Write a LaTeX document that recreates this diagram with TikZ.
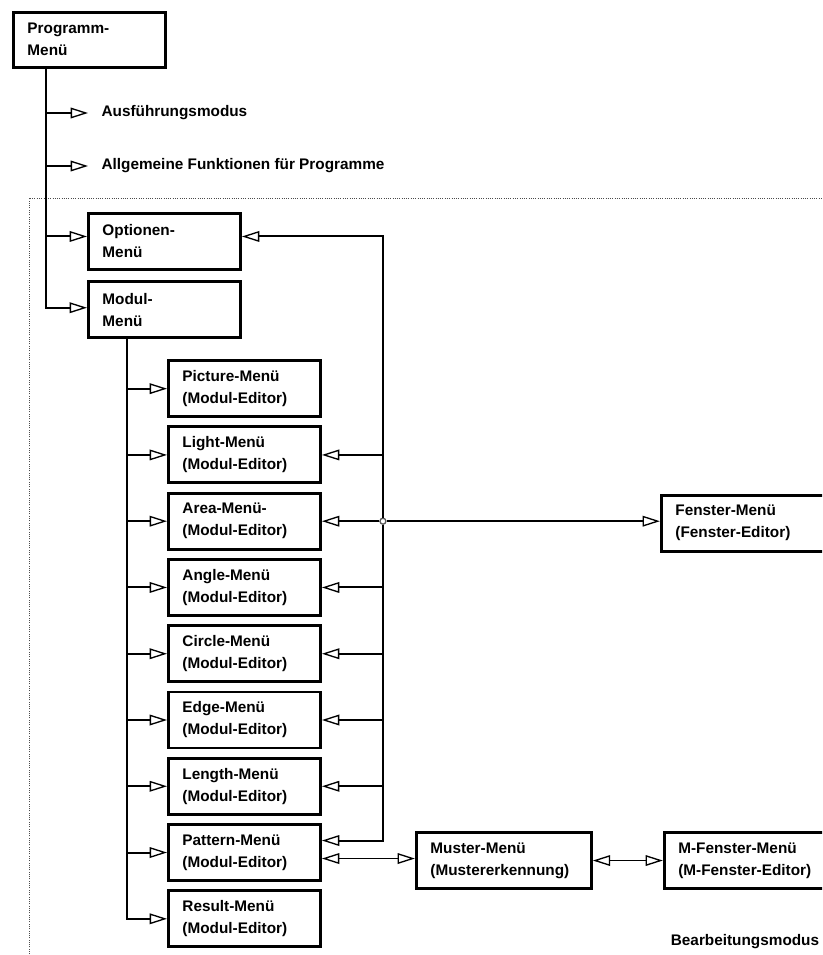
\documentclass[tikz,border=0pt]{standalone}
\usepackage{fontspec}
\setsansfont{Liberation Sans}
\usetikzlibrary{
  calc,
  arrows.meta,
  positioning}

\newcommand{\menufont}{\sffamily\bfseries\fontsize{11.5}{16.5}\selectfont}

\begin{document}
\begin{tikzpicture}[x=0.75pt,y=-0.75pt]
  \tikzset{menubox/.style={draw,rectangle,line width=2.2pt,text width=93pt,
                           inner xsep=10.5pt,inner ysep=1pt,minimum height=42pt,
                           align=left,anchor=north west,font=\menufont},
           widebox/.style={menubox,text width=110.25pt},
           menutext/.style={inner xsep=10pt,anchor=west,font=\menufont},
           conn/.style={line width=1.5pt},
           thinconn/.style={line width=0.8pt},
           opentip/.style={-{Triangle[open,length=13pt,width=8pt,line width=1pt]}},
           bothtips/.style={{Triangle[open,length=13pt,width=8pt,line width=1pt]}-{Triangle[open,length=13pt,width=8pt,line width=1pt]}},
           junction/.style={circle,draw=gray!70!black,fill=white,line width=1pt,
                            inner sep=0pt,minimum size=4.5pt}
           }

\clip (0,0) rectangle (822,955);

%%%%%%%%%%%%%%%%%%%%%%%%%%%%%%%%%%%%%%%%%%%%%%%%%%%%%%%%%%%%%%%%%%%%%%%%%%%%%%

%% Bearbeitungsmodus frame
\draw[gray!60!black,densely dotted,line width=0.7pt] (29,970) |- (840,198);

%%%%%%%%%%%%%%%%%%%%%%%%%%%%%%%%%%%%%%%%%%%%%%%%%%%%%%%%%%%%%%%%%%%%%%%%%%%%%%

\node[menubox,minimum height=41pt] (prog) at (12,11) {Programm-\\Menü};

\node[menutext] (ausf) at (88,113) {Ausführungsmodus};

\node[menutext] (allg) at (88,166) {Allgemeine Funktionen für Programme};

\node[menubox] (opt) at (87,212) {Optionen-\\Menü};

\node[menubox,below=7pt of opt] (modul) {Modul-\\Menü};

\node[menubox] (picm) at ($(modul.south west)+(80,20)$) {Picture-Menü\\(Modul-Editor)};

\node[menubox,below=5.5pt of picm] (lightm) {Light-Menü\\(Modul-Editor)};

\node[menubox,below=5.5pt of lightm] (aream) {Area-Menü-\\(Modul-Editor)};

\node[menubox,below=5.5pt of aream] (anglem) {Angle-Menü\\(Modul-Editor)};

\node[menubox,below=5.5pt of anglem] (circlem) {Circle-Menü\\(Modul-Editor)};

\node[menubox,below=5.5pt of circlem] (edgem) {Edge-Menü\\(Modul-Editor)};

\node[menubox,below=5.5pt of edgem] (lengthm) {Length-Menü\\(Modul-Editor)};

\node[menubox,below=5.5pt of lengthm] (patternm) {Pattern-Menü\\(Modul-Editor)};

\node[menubox,below=5.5pt of patternm] (resultm) {Result-Menü\\(Modul-Editor)};

\coordinate (pbus) at ($(prog.south west)+(34,0)$);
\coordinate (mbus) at ($(modul.south west)+(40,0)$);
\coordinate (rbus) at ($(aream.east)+(61,0)$);

\node[junction] (jn) at (rbus) {};

\node[widebox,anchor=west] (fenster) at ($(rbus)+(277,2)$) {Fenster-Menü\\(Fenster-Editor)};

\node[widebox,anchor=west] (muster) at ($(patternm.east)+(93,8)$) {Muster-Menü\\(Mustererkennung)};

\node[widebox,right=52.5pt of muster] (mfenster) {M-Fenster-Menü\\(M-Fenster-Editor)};

\node[font=\menufont] (bearb) at (745,942) {Bearbeitungsmodus};

%%%%%%%%%%%%%%%%%%%%%%%%%%%%%%%%%%%%%%%%%%%%%%%%%%%%%%%%%%%%%%%%%%%%%%%%%%%%%%
\draw[conn,opentip]  (pbus) |- (ausf.west);
\draw[conn,opentip]  (pbus) |- (allg.west);
\draw[conn,opentip]  (pbus) |- ($(opt.west)+(0,-5)$);
\draw[conn,opentip]  (pbus) |- ($(modul.west)+(0,-2)$);

\draw[conn,opentip]  (mbus) |- (picm.west);
\draw[conn,opentip]  (mbus) |- (lightm.west);
\draw[conn,opentip]  (mbus) |- (aream.west);
\draw[conn,opentip]  (mbus) |- (anglem.west);
\draw[conn,opentip]  (mbus) |- (circlem.west);
\draw[conn,opentip]  (mbus) |- (edgem.west);
\draw[conn,opentip]  (mbus) |- (lengthm.west);
\draw[conn,opentip]  (mbus) |- (patternm.west);
\draw[conn,opentip]  (mbus) |- (resultm.west);

\draw[conn,opentip]  (jn) |- ($(opt.east)+(0,-5)$);
\draw[conn,opentip]  (jn) |- (lightm.east);
\draw[conn,opentip]  (jn) -- (aream.east);
\draw[conn,opentip]  (jn) |- (anglem.east);
\draw[conn,opentip]  (jn) |- (circlem.east);
\draw[conn,opentip]  (jn) |- (edgem.east);
\draw[conn,opentip]  (jn) |- (lengthm.east);
\draw[conn,opentip]  (jn) |- ($(patternm.east)+(0,-12)$);
\draw[conn,opentip]  (jn) -- (fenster.west |- jn);

\draw[thinconn,bothtips]  ($(patternm.east)+(0,6)$) -- ($(muster.west)+(0,-2)$);
\draw[thinconn,bothtips]  (muster.east) -- (mfenster.west);

%%%%%%%%%%%%%%%%%%%%%%%%%%%%%%%%%%%%%%%%%%%%%%%%%%%%%%%%%%%%%%%%%%%%%%%%%%%%%%

\end{tikzpicture}
\end{document}
